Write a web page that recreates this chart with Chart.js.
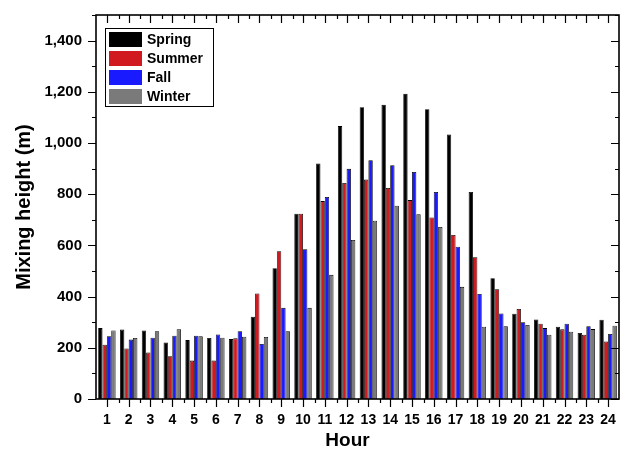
<!DOCTYPE html>
<html>
<head>
<meta charset="utf-8">
<script src="https://cdn.jsdelivr.net/npm/chart.js@4.4.0/dist/chart.umd.min.js"></script>
<style>
  html, body { margin: 0; padding: 0; background: #fff; }
</style>
</head>
<body>
<canvas id="chart" width="628" height="450"></canvas>
<script>
const hours = ['1','2','3','4','5','6','7','8','9','10','11','12','13','14','15','16','17','18','19','20','21','22','23','24'];
const spring = [277, 271, 268, 221, 230, 238, 234, 321, 511, 724, 920, 1066, 1140, 1149, 1192, 1132, 1033, 809, 472, 333, 311, 282, 258, 310];
const summer = [212, 197, 182, 167, 150, 150, 237, 412, 577, 724, 773, 844, 857, 824, 777, 709, 641, 554, 429, 352, 294, 272, 251, 225];
const fall   = [245, 232, 239, 247, 247, 252, 265, 215, 356, 585, 789, 899, 933, 913, 887, 809, 595, 410, 334, 300, 277, 294, 284, 254];
const winter = [268, 238, 265, 272, 245, 239, 243, 242, 265, 356, 485, 621, 696, 755, 722, 672, 438, 282, 284, 289, 251, 263, 273, 286];
const yTicks = [0, 200, 400, 600, 800, 1000, 1200, 1400];
const yMax = 1500;

const FONT = "'Liberation Sans', Arial, sans-serif";

// frame + tick marks on all four sides (major and minor), plus the x title
const frameTicks = {
    id: 'frameTicks',
    afterDraw(chart) {
        const { ctx, chartArea: a, scales: { x, y } } = chart;
        ctx.save();
        ctx.strokeStyle = '#000';
        ctx.lineWidth = 1.2;
        ctx.beginPath();
        for (let v = 0; v <= yMax; v += 100) {
            const py = Math.round(y.getPixelForValue(v)) + 0.5;
            const len = v % 200 === 0 ? 8 : 4;
            ctx.moveTo(a.left - len, py); ctx.lineTo(a.left, py);
            ctx.moveTo(a.right, py); ctx.lineTo(a.right - len, py);
        }
        const step = x.getPixelForValue(1) - x.getPixelForValue(0);
        hours.forEach((h, i) => {
            const px = Math.round(x.getPixelForValue(i)) + 0.5;
            ctx.moveTo(px, a.bottom); ctx.lineTo(px, a.bottom + 8);
            ctx.moveTo(px, a.top); ctx.lineTo(px, a.top + 8);
            if (i > 0) {
                const mx = Math.round(px - step / 2) + 0.5;
                ctx.moveTo(mx, a.bottom); ctx.lineTo(mx, a.bottom + 4);
                ctx.moveTo(mx, a.top); ctx.lineTo(mx, a.top + 4);
            }
        });
        ctx.stroke();
        ctx.lineWidth = 1.6;
        ctx.strokeRect(a.left, a.top, a.right - a.left, a.bottom - a.top);

        ctx.fillStyle = '#000';
        ctx.font = `bold 19px ${FONT}`;
        ctx.textAlign = 'center';
        ctx.textBaseline = 'middle';
        ctx.fillText('Hour', (a.left + a.right) / 2 - 10, 441);
        ctx.restore();
    }
};

// boxed legend in the upper-left corner of the plot
const boxLegend = {
    id: 'boxLegend',
    afterDraw(chart) {
        const { ctx, chartArea: a } = chart;
        const x0 = a.left + 9, y0 = a.top + 13;
        ctx.save();
        ctx.strokeStyle = '#000';
        ctx.lineWidth = 1;
        ctx.strokeRect(x0 + 0.5, y0 + 0.5, 108, 78);
        ctx.font = `bold 14px ${FONT}`;
        ctx.textBaseline = 'middle';
        chart.data.datasets.forEach((ds, i) => {
            const ry = y0 + 4 + i * 19;
            ctx.fillStyle = ds.backgroundColor;
            ctx.fillRect(x0 + 4, ry, 33, 15);
            ctx.fillStyle = '#000';
            ctx.fillText(ds.label, x0 + 42, ry + 8);
        });
        ctx.restore();
    }
};

function makeSet(label, data, color) {
    return {
        label,
        data,
        backgroundColor: color,
        borderColor: '#000',
        borderWidth: 0.8,
        categoryPercentage: 0.8,
        barPercentage: 1.0
    };
}

new Chart(document.getElementById('chart'), {
    type: 'bar',
    data: {
        labels: hours,
        datasets: [
            makeSet('Spring', spring, '#000000'),
            makeSet('Summer', summer, '#d01a1f'),
            makeSet('Fall', fall, '#1a1aff'),
            makeSet('Winter', winter, '#7a7a7a')
        ]
    },
    options: {
        responsive: false,
        animation: false,
        layout: { padding: { top: 7, right: 9, left: 0, bottom: 0 } },
        plugins: {
            legend: { display: false },
            tooltip: { enabled: false }
        },
        scales: {
            x: {
                grid: { display: false },
                border: { display: false },
                ticks: {
                    color: '#000',
                    font: { family: FONT, size: 14, weight: 'bold' },
                    padding: 5,
                    maxRotation: 0,
                    autoSkip: false
                },
                afterFit(scale) { scale.height = 51; }
            },
            y: {
                min: 0,
                max: yMax,
                grid: { display: false },
                border: { display: false },
                afterBuildTicks(scale) { scale.ticks = yTicks.map(v => ({ value: v })); },
                ticks: {
                    color: '#000',
                    font: { family: FONT, size: 15, weight: 'bold' },
                    padding: 6,
                    callback: v => v.toLocaleString('en-US')
                },
                title: {
                    display: true,
                    text: 'Mixing height (m)',
                    color: '#000',
                    font: { family: FONT, size: 20, weight: 'bold', lineHeight: 1.2 },
                    padding: { top: 12, bottom: 0 }
                },
                afterFit(scale) { scale.width = 96; }
            }
        }
    },
    plugins: [frameTicks, boxLegend]
});
</script>
</body>
</html>
